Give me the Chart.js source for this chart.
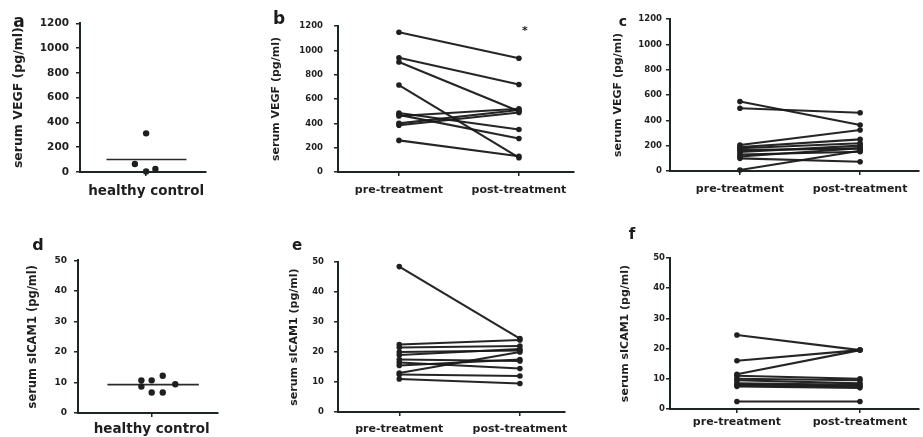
<!DOCTYPE html>
<html><head><meta charset="utf-8">
<script src="https://cdn.jsdelivr.net/npm/chart.js@4.4.0/dist/chart.umd.min.js"></script>
<style>
html,body{margin:0;padding:0;background:#fff;}
#fig{position:relative;width:923px;height:437px;overflow:hidden;background:#fff;}
#fig canvas{position:absolute;}
.lbl{position:absolute;font-family:"DejaVu Sans",sans-serif;font-weight:bold;color:#1b1b1b;line-height:1;transform:translate(-50%,-50%);white-space:nowrap;}
</style></head><body>
<div id="fig"></div>
<script>
// ---- categories / tick labels ----
const treatmentLabels = ['pre-treatment', 'post-treatment'];
const healthyLabel = ['healthy control'];
const vegfTitle = 'serum VEGF (pg/ml)';
const icamTitle = 'serum sICAM1 (pg/ml)';

// ---- panel a: serum VEGF, healthy controls ----
const vegfHealthy  = [312, 64, 5, 24];
const vegfHealthyX = [1.0, 0.83, 1.0, 1.14];

// ---- panel b: serum VEGF, pre vs post (group 1) ----
const vegfPreB  = [1150, 940, 905, 715, 485, 470, 460, 400, 385, 260];
const vegfPostB = [ 935, 720, 500, 118, 350, 275, 520, 510, 490, 130];

// ---- panel c: serum VEGF, pre vs post (group 2) ----
const vegfPreC  = [548, 495, 205, 190, 180, 165, 150, 130, 115, 100,   8];
const vegfPostC = [363, 460, 324, 250, 219, 179, 200, 152, 180,  73, 160];

// ---- panel d: serum sICAM1, healthy controls ----
const icamHealthy  = [10.7, 8.7, 10.7, 12.2, 9.4, 6.7, 6.7];
const icamHealthyX = [0.86, 0.86, 1.0, 1.15, 1.32, 1.0, 1.15];

// ---- panel e: serum sICAM1, pre vs post (group 1) ----
const icamPreE  = [48.5, 22.5, 21.5, 20, 19, 17.5, 16.5, 15.5, 13, 12.5, 11];
const icamPostE = [24.5, 24, 22, 20.5, 21, 17, 14.5, 17.5, 20, 12, 9.5];

// ---- panel f: serum sICAM1, pre vs post (group 2) ----
const icamPreF  = [24.5, 16, 11.5, 11, 10, 9.5, 8.5, 8, 7.5, 2.5];
const icamPostF = [19.5, 19.5, 19.5, 10, 9.5, 8.5, 8, 7.5, 7, 2.5];

const INK = '#1f1f1f';
const AXIS = '#1d2621';
const FONT = '"DejaVu Sans", "Liberation Sans", sans-serif';

const panels = [
  {letter:'a', letterAt:[19,21], letterSize:17, area:{L:80,T:22,R:213,B:172}, titleX:18, titleSize:12.5, yTitle:vegfTitle, yMax:1200, yStep:200, tickSize:10.5, tickPad:7,
   xRange:[0,1.9], cats:healthyLabel, catAt:[1], catSize:13.5, catPad:7, kind:'healthy', values:vegfHealthy, xs:vegfHealthyX, meanSpan:[0.40,1.61]},
  {letter:'b', letterAt:[279,18], letterSize:17, area:{L:338,T:22,R:578,B:172}, titleX:277, titleSize:11, yTitle:vegfTitle, yMax:1200, yStep:200, tickSize:8.5, tickPad:11,
   xRange:[-0.508,1.459], cats:treatmentLabels, catAt:[0,1], catSize:11, catPad:8, kind:'paired', pre:vegfPreB, post:vegfPostB},
  {letter:'c', letterAt:[623,21], letterSize:14, area:{L:670,T:19,R:923,B:171}, titleX:619, titleSize:11, yTitle:vegfTitle, yMax:1200, yStep:200, tickSize:8.5, tickPad:4,
   xRange:[-0.582,1.49], cats:treatmentLabels, catAt:[0,1], catSize:11, catPad:8, kind:'paired', pre:vegfPreC, post:vegfPostC},
  {letter:'d', letterAt:[38,245], letterSize:16, area:{L:78,T:260,R:222,B:413}, titleX:33, titleSize:11.5, yTitle:icamTitle, yMax:50, yStep:10, tickSize:9, tickPad:7,
   xRange:[0,1.9], cats:healthyLabel, catAt:[1], catSize:13.5, catPad:4, kind:'healthy', values:icamHealthy, xs:icamHealthyX, meanSpan:[0.40,1.64]},
  {letter:'e', letterAt:[297,245], letterSize:15, area:{L:338,T:259,R:575,B:412}, titleX:295, titleSize:11, yTitle:icamTitle, yMax:50, yStep:10, tickSize:8.5, tickPad:10,
   xRange:[-0.508,1.37], cats:treatmentLabels, catAt:[0,1], catSize:11, catPad:7, kind:'paired', pre:icamPreE, post:icamPostE},
  {letter:'f', letterAt:[632,234], letterSize:15, area:{L:670,T:258,R:923,B:409}, titleX:626, titleSize:11, yTitle:icamTitle, yMax:50, yStep:10, tickSize:8.5, tickPad:1,
   xRange:[-0.544,1.48], cats:treatmentLabels, catAt:[0,1], catSize:11, catPad:3, kind:'paired', pre:icamPreF, post:icamPostF}
];

const fig = document.getElementById('fig');

function addLabel(text, at, size) {
  const d = document.createElement('div');
  d.className = 'lbl';
  d.textContent = text;
  d.style.left = at[0] + 'px';
  d.style.top = at[1] + 'px';
  d.style.fontSize = size + 'px';
  fig.appendChild(d);
}

function build(p) {
  const topPad = 12, xH = 34;
  const cLeft = Math.round(p.titleX - p.titleSize * 1.2 / 2);
  const cTop = p.area.T - topPad;
  const cW = p.area.R - cLeft;
  const cH = p.area.B + xH - cTop;
  const yW = p.area.L - cLeft;

  const cv = document.createElement('canvas');
  cv.width = cW; cv.height = cH;
  cv.style.left = cLeft + 'px'; cv.style.top = cTop + 'px';
  cv.style.width = cW + 'px'; cv.style.height = cH + 'px';
  fig.appendChild(cv);

  const datasets = [];
  if (p.kind === 'healthy') {
    datasets.push({
      data: p.values.map((v, i) => ({x: p.xs[i], y: v})),
      showLine: false, pointRadius: 3.2, pointBackgroundColor: INK, pointBorderWidth: 0, clip: false
    });
    const mean = p.values.reduce((s, v) => s + v, 0) / p.values.length;
    datasets.push({
      data: [{x: p.meanSpan[0], y: mean}, {x: p.meanSpan[1], y: mean}],
      showLine: true, borderColor: '#2a2a2a', borderWidth: 1.6, pointRadius: 0, clip: false
    });
  } else {
    p.pre.forEach((v, i) => {
      datasets.push({
        data: [{x: 0, y: v}, {x: 1, y: p.post[i]}],
        showLine: true, borderColor: 'rgba(25,25,25,0.95)', borderWidth: 2.1,
        pointRadius: 2.8, pointBackgroundColor: INK, pointBorderWidth: 0, clip: false
      });
    });
  }

  new Chart(cv, {
    type: 'scatter',
    data: {datasets},
    options: {
      responsive: false, animation: false, devicePixelRatio: 1,
      layout: {padding: {top: topPad, left: 0, right: 0, bottom: 0}},
      plugins: {legend: {display: false}, tooltip: {enabled: false}},
      scales: {
        x: {
          type: 'linear', min: p.xRange[0], max: p.xRange[1],
          afterBuildTicks: s => { s.ticks = p.catAt.map(v => ({value: v})); },
          afterFit: s => { s.height = xH; },
          ticks: {
            autoSkip: false, maxRotation: 0, padding: p.catPad, color: INK,
            font: {family: FONT, size: p.catSize, weight: 'bold'},
            callback: v => { const k = p.catAt.indexOf(v); return k >= 0 ? p.cats[k] : ''; }
          },
          grid: {drawOnChartArea: false, drawTicks: true, tickLength: 4, color: AXIS, lineWidth: 1.5},
          border: {display: true, color: AXIS, width: 2}
        },
        y: {
          min: 0, max: p.yMax,
          afterFit: s => { s.width = yW; },
          ticks: {stepSize: p.yStep, padding: p.tickPad, color: INK,
                  font: {family: FONT, size: p.tickSize, weight: 'bold'},
                  callback: v => String(v)},
          grid: {drawOnChartArea: false, drawTicks: true, tickLength: 4, color: AXIS, lineWidth: 1.5},
          border: {display: true, color: AXIS, width: 2},
          title: {display: true, text: p.yTitle, color: INK, padding: 0,
                  font: {family: FONT, size: p.titleSize, weight: 'bold'}}
        }
      }
    }
  });

  addLabel(p.letter, p.letterAt, p.letterSize);
}

panels.forEach(build);
// significance mark in panel b
addLabel('*', [525, 30], 11);
</script>
</body></html>
